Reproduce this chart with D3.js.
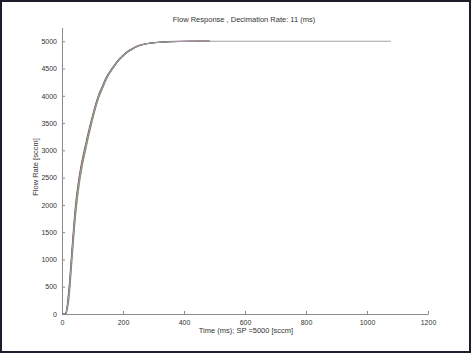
<!DOCTYPE html>
<html><head><meta charset="utf-8">
<script src="https://cdn.jsdelivr.net/npm/d3@7"></script>
<style>html,body{margin:0;padding:0;background:#fff;}svg{display:block;}</style>
</head><body>
<svg id="chart" width="473" height="355"></svg>
<script>
const titleText = "Flow Response , Decimation Rate: 11 (ms)";
const xLabelText = "Time (ms); SP =5000 [sccm]";
const yLabelText = "Flow Rate [sccm]";
const xTicks = [0, 200, 400, 600, 800, 1000, 1200];
const yTicks = [0, 500, 1000, 1500, 2000, 2500, 3000, 3500, 4000, 4500, 5000];

const timeMs = [0,11,22,33,44,55,66,77,88,99,110,121,132,143,154,165,176,187,198,209,220,231,242,264,286,308,330,352,385,418,451,484];
const longTimeMs = [0,11,22,33,44,55,66,77,88,99,110,121,132,143,154,165,176,187,198,209,220,231,242,264,286,308,330,352,385,418,451,484,600,800,1000,1078];

const runGray   = [0,0,340,1130,1880,2400,2770,3060,3330,3580,3810,4010,4150,4300,4410,4500,4590,4670,4730,4785,4830,4865,4900,4940,4962,4975,4985,4990,4995,4998,5000,5000,5000,5000,5000,5000];
const runGreen  = [0,0,230,990,1760,2300,2690,2990,3270,3530,3770,3970,4120,4270,4390,4480,4570,4650,4715,4770,4820,4858,4893,4935,4960,4974,4984,4990,4995,4998,5000,5000];
const runRed    = [0,0,430,1240,1990,2480,2830,3110,3380,3620,3845,4035,4175,4320,4425,4515,4600,4680,4740,4795,4838,4870,4903,4943,4964,4976,4986,4991,4995,4998,5000,5000];
const runDark   = [0,0,380,1170,1930,2440,2800,3080,3350,3600,3830,4025,4165,4315,4420,4510,4598,4676,4735,4790,4834,4868,4902,4941,4963,4976,4986,4991,4996,4998,5000,5000];
const runPurple = [0,0,300,1080,1840,2370,2740,3030,3300,3555,3785,3985,4128,4278,4392,4482,4570,4650,4712,4768,4815,4852,4888,4935,4962,4978,4989,4996,5000,5002,5001,5000];

const series = [
  {t: timeMs, v: runPurple, color: "#8a3c8a"},
  {t: timeMs, v: runRed, color: "#b86060"},
  {t: timeMs, v: runGreen, color: "#7a9a5e"},
  {t: timeMs, v: runDark, color: "#55555c"},
  {t: longTimeMs, v: runGray, color: "#a3a1a8"}
];

const svg = d3.select("#chart");

svg.append("rect").attr("x",1).attr("y",1).attr("width",469).attr("height",351)
  .attr("fill","#fff").attr("stroke","#1c1c2a").attr("stroke-width",2);

const x = d3.scaleLinear().domain([0,1200]).range([62,428]);
const y = d3.scaleLinear().domain([0,5250]).range([314,27.6]);

const font = "Liberation Sans, Arial, sans-serif";
const axisCol = "#8a8a8a";
const fmt = d3.format("d");

const gx = svg.append("g").attr("transform","translate(0,314)")
  .call(d3.axisBottom(x).tickValues(xTicks).tickFormat(fmt).tickSizeInner(-3).tickSizeOuter(0).tickPadding(6));
gx.select(".domain").attr("stroke",axisCol);
gx.selectAll(".tick line").attr("stroke",axisCol);
gx.selectAll(".tick text").attr("font-family",font).attr("font-size","7px").attr("fill","#333");

const gy = svg.append("g").attr("transform","translate(62,0)")
  .call(d3.axisLeft(y).tickValues(yTicks).tickFormat(fmt).tickSizeInner(-3).tickSizeOuter(0).tickPadding(5));
gy.select(".domain").attr("stroke",axisCol);
gy.selectAll(".tick line").attr("stroke",axisCol);
gy.selectAll(".tick text").attr("font-family",font).attr("font-size","7px").attr("fill","#333");

const line = d3.line().curve(d3.curveMonotoneX).x(d => x(d[0])).y(d => y(d[1]));
series.forEach(s => {
  const pts = s.t.map((tt,i) => [tt, s.v[i]]);
  svg.append("path").datum(pts).attr("d", line)
    .attr("fill","none").attr("stroke", s.color).attr("stroke-width",1);
});

svg.append("text").attr("x",244).attr("y",21.5).attr("text-anchor","middle")
  .attr("font-family",font).attr("font-size","7.5px").attr("fill","#333").text(titleText);
svg.append("text").attr("x",246).attr("y",333).attr("text-anchor","middle")
  .attr("font-family",font).attr("font-size","7.5px").attr("fill","#333").text(xLabelText);
svg.append("text").attr("transform","translate(38,167) rotate(-90)").attr("text-anchor","middle")
  .attr("font-family",font).attr("font-size","7.5px").attr("fill","#333").text(yLabelText);
</script>
</body></html>
